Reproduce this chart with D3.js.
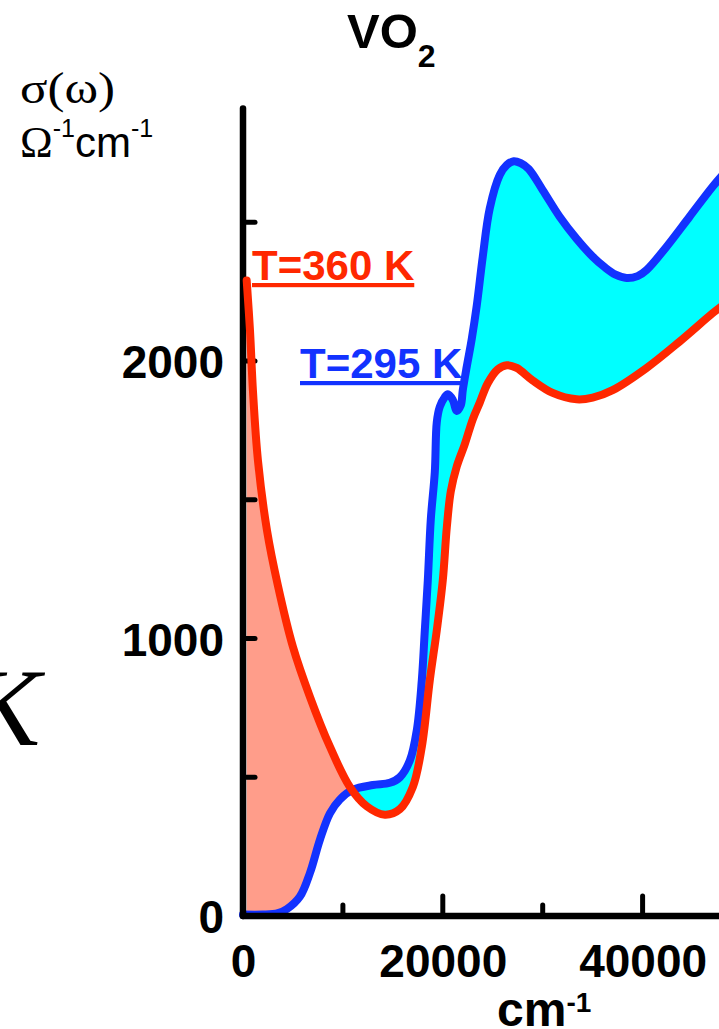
<!DOCTYPE html>
<html>
<head>
<meta charset="utf-8">
<script src="https://cdn.jsdelivr.net/npm/d3@7"></script>
<style>
  html, body { margin: 0; padding: 0; background: #fff; overflow: hidden; }
  svg { display: block; }
</style>
</head>
<body>
<svg id="chart" width="719" height="1029"></svg>
<script>
// optical conductivity of VO2
const hotWavenumber = [370, 700, 1000, 1500, 2400, 3500, 5000, 6700, 8700, 10700, 12400, 14200, 15700, 17000, 17900, 18700, 19400, 20000, 20400, 20800, 21400, 22200, 23000, 23700, 24500, 25500, 26400, 27400, 29000, 31000, 33400, 35000, 37000, 40400, 43700, 47000, 48000];
const hotSigma      = [2290, 2110, 1890, 1640, 1390, 1190, 970, 790, 610, 465, 395, 365, 385, 465, 610, 850, 1030, 1210, 1400, 1530, 1620, 1700, 1790, 1850, 1920, 1970, 1985, 1975, 1930, 1885, 1862, 1868, 1895, 1975, 2070, 2172, 2200];

const coldWavenumber = [0, 2000, 3500, 4400, 5700, 6700, 7700, 8700, 9700, 11000, 13000, 14700, 15700, 16700, 17400, 17900, 18200, 18500, 18800, 19200, 19400, 19700, 20200, 20500, 21000, 21400, 21800, 22000, 22400, 22900, 23400, 24000, 24700, 25700, 26400, 27100, 27800, 28600, 30000, 31700, 33400, 35000, 36200, 37300, 38400, 39500, 40400, 42400, 44700, 47000, 48000];
const coldSigma      = [5, 5, 10, 25, 70, 155, 275, 370, 420, 455, 472, 480, 500, 560, 670, 850, 1030, 1210, 1430, 1600, 1780, 1835, 1870, 1880, 1860, 1820, 1840, 1895, 1980, 2080, 2200, 2376, 2550, 2670, 2706, 2720, 2713, 2692, 2616, 2520, 2440, 2376, 2338, 2311, 2299, 2306, 2328, 2412, 2520, 2628, 2670];

const yLabelTicks = [0, 1000, 2000];
const yMarkTicks = [500, 1000, 1500, 2000, 2500];
const xLabelTicks = [0, 20000, 40000];
const xMajorTicks = [20000, 40000];
const xMinorTicks = [10000, 30000];
const yAxisTop = 2910;

const red = "#ff2800";
const blue = "#1232ff";
const salmon = "#ff9d8a";
const cyan = "#00ffff";
const sans = "'Liberation Sans', Arial, sans-serif";
const serif = "'Liberation Serif', 'Times New Roman', serif";

const svg = d3.select("#chart");

const x = d3.scaleLinear().domain([0, 50000]).range([243, 742.5]);
const y = d3.scaleLinear().domain([0, 1000]).range([916, 638.5]);

const hot = hotWavenumber.map((v, i) => ({ v: v, s: hotSigma[i] }));
const cold = coldWavenumber.map((v, i) => ({ v: v, s: coldSigma[i] }));

const curve = d3.curveCatmullRom.alpha(0.5);
const line = d3.line().x(d => x(d.v)).y(d => y(d.s)).curve(curve);
const under = d3.area().x(d => x(d.v)).y0(y(0)).y1(d => y(d.s)).curve(curve);
const above = d3.area().x(d => x(d.v)).y0(0).y1(d => y(d.s)).curve(curve);

// clip regions: everything above each curve
const defs = svg.append("defs");
defs.append("clipPath").attr("id", "aboveCold")
  .append("path").attr("d", above(cold));
defs.append("clipPath").attr("id", "aboveHot")
  .append("path").attr("d", above(hot));

// fills between the two curves
svg.append("path").attr("d", under(hot))
  .attr("fill", salmon).attr("clip-path", "url(#aboveCold)");
svg.append("path").attr("d", under(cold))
  .attr("fill", cyan).attr("clip-path", "url(#aboveHot)");

// cold curve sits under the axes
svg.append("path").attr("d", line(cold))
  .attr("fill", "none").attr("stroke", blue)
  .attr("stroke-width", 8).attr("stroke-linejoin", "round").attr("stroke-linecap", "round");

// axes
const axes = svg.append("g").attr("stroke", "#000").attr("stroke-linecap", "round");
axes.append("line")
  .attr("x1", x(0)).attr("x2", x(0))
  .attr("y1", y(0)).attr("y2", y(yAxisTop))
  .attr("stroke-width", 6.5);
axes.append("line")
  .attr("x1", x(0)).attr("x2", x(50000))
  .attr("y1", y(0)).attr("y2", y(0))
  .attr("stroke-width", 6.5);
axes.selectAll(".ymark").data(yMarkTicks).join("line")
  .attr("x1", x(0)).attr("x2", x(0) + 12)
  .attr("y1", d => y(d)).attr("y2", d => y(d))
  .attr("stroke-width", 5);
axes.selectAll(".xmajor").data(xMajorTicks).join("line")
  .attr("x1", d => x(d)).attr("x2", d => x(d))
  .attr("y1", y(0)).attr("y2", y(0) - 20)
  .attr("stroke-width", 5);
axes.selectAll(".xminor").data(xMinorTicks).join("line")
  .attr("x1", d => x(d)).attr("x2", d => x(d))
  .attr("y1", y(0)).attr("y2", y(0) - 11)
  .attr("stroke-width", 5);

// tick labels through d3 axes, without their own lines
const yAxis = svg.append("g")
  .attr("transform", `translate(${x(0)},0)`)
  .call(d3.axisLeft(y).tickValues(yLabelTicks).tickSize(0).tickPadding(19).tickFormat(d3.format("d")));
const xAxis = svg.append("g")
  .attr("transform", `translate(0,${y(0)})`)
  .call(d3.axisBottom(x).tickValues(xLabelTicks).tickSize(0).tickPadding(28).tickFormat(d3.format("d")));
[yAxis, xAxis].forEach(g => {
  g.select(".domain").remove();
  g.attr("font-family", null).attr("font-size", null);
  g.selectAll("text")
    .style("font-family", sans)
    .style("font-size", "46px").style("font-weight", "bold").attr("fill", "#000");
});
yAxis.selectAll("text").attr("dy", "0.36em");
xAxis.selectAll("text").attr("dy", "0.72em");

// hot curve on top
svg.append("path").attr("d", line(hot))
  .attr("fill", "none").attr("stroke", red)
  .attr("stroke-width", 8).attr("stroke-linejoin", "round").attr("stroke-linecap", "round");

// curve labels
svg.append("text").attr("x", 252).attr("y", 280)
  .style("font-family", sans).style("font-size", "42px").style("font-weight", "bold")
  .attr("fill", red).attr("text-decoration", "underline")
  .text("T=360 K");
svg.append("text").attr("x", 300).attr("y", 378)
  .style("font-family", sans).style("font-size", "42px").style("font-weight", "bold")
  .attr("fill", blue).attr("text-decoration", "underline")
  .text("T=295 K");

// title
const title = svg.append("text").attr("x", 347).attr("y", 48)
  .style("font-family", sans).style("font-size", "49px").style("font-weight", "bold").attr("fill", "#000");
title.append("tspan").text("VO");
title.append("tspan").style("font-size", "32px").attr("dy", 19).text("2");

// y-axis unit
svg.append("text").attr("x", 20).attr("y", 103)
  .style("font-family", serif).style("font-size", "44px").attr("fill", "#000")
  .attr("textLength", 95).attr("lengthAdjust", "spacingAndGlyphs")
  .text("σ(ω)");
const unit = svg.append("text").attr("x", 20).attr("y", 157)
  .style("font-family", sans).style("font-size", "42px").attr("fill", "#000");
unit.append("tspan").style("font-family", serif).style("font-size", "44px").text("Ω");
unit.append("tspan").style("font-size", "25px").attr("dy", -20).text("-1");
unit.append("tspan").attr("dy", 20).text("cm");
unit.append("tspan").style("font-size", "25px").attr("dy", -20).text("-1");

// x-axis unit
const xunit = svg.append("text").attr("x", 497).attr("y", 1026)
  .style("font-family", sans).style("font-size", "48px").style("font-weight", "bold").attr("fill", "#000");
xunit.append("tspan").text("cm");
xunit.append("tspan").style("font-size", "28px").attr("dy", -14).text("-1");

// piece of neighbouring panel's text, cut at the edge
svg.append("text").attr("x", -33).attr("y", 745)
  .style("font-family", serif).style("font-style", "italic").style("font-size", "110px").attr("fill", "#000")
  .text("K");
</script>
</body>
</html>
